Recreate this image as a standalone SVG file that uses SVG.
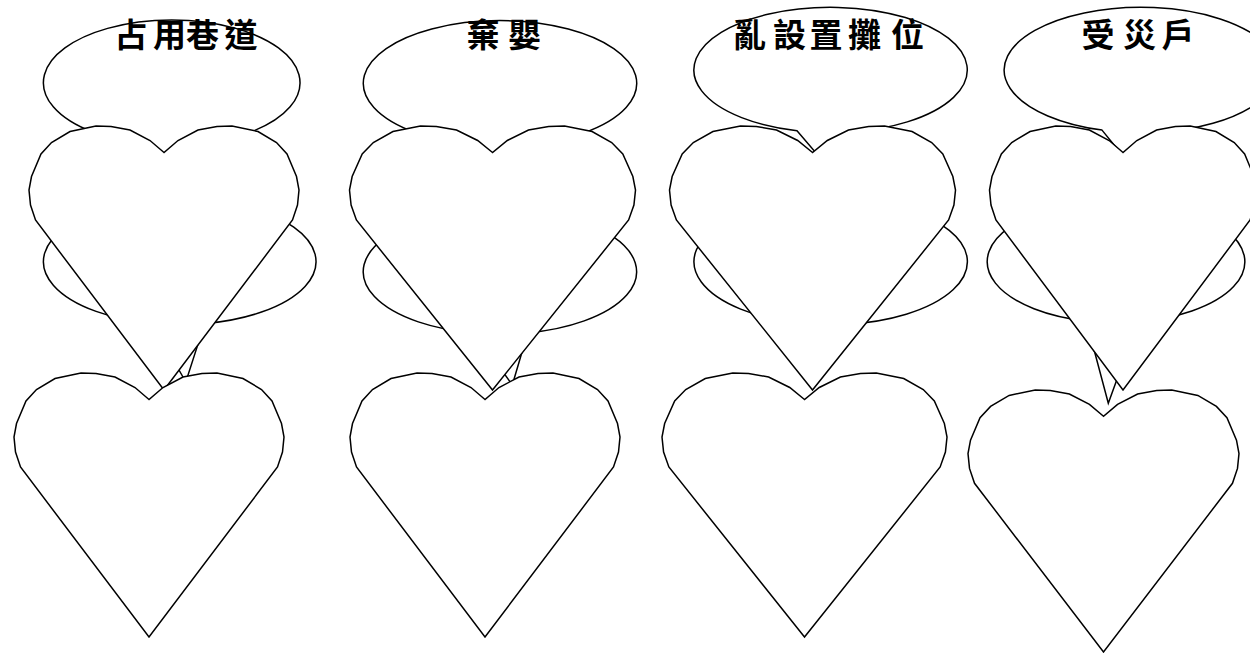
<svg xmlns="http://www.w3.org/2000/svg" xmlns:xlink="http://www.w3.org/1999/xlink" width="1250" height="653" viewBox="0 0 1250 653">
<style>
.co{fill:#fff;stroke:#000;stroke-width:1.5;stroke-linejoin:miter}
.hrt{fill:#fff;stroke:#000;stroke-width:1.5;stroke-linejoin:miter;vector-effect:non-scaling-stroke}
.lbl{font-family:"Noto Sans CJK TC","Noto Sans CJK SC",sans-serif;font-size:33px;font-weight:bold;fill:#000}
</style>
<defs>
<polygon id="heart" class="hrt" points="135,26.5 121,14.5 101,4 82,0.5 67,0 41,5.5 22.5,16.5 12,28 2.5,50.5 0,64 1.5,79 6.5,94 135,264 263.5,94 268.5,79 270,64 267.5,50.5 258,28 247.5,16.5 229,5.5 203,0 188,0.5 169,4 149,14.5"/>
</defs>
<rect width="1250" height="653" fill="#fff"/>
<g id="connectors"></g>
<g id="callout-1a"><path class="co" d="M147.2,144.25 L172,175 L196.2,144.25 A128.3,62.7 0 1 0 147.2,144.25 Z"/></g>
<g id="callout-2a"><path class="co" d="M473.9,144.85 L497,178 L526.1,144.85 A136.7,62.7 0 1 0 473.9,144.85 Z"/></g>
<g id="callout-3a"><path class="co" d="M797,130.76 L822,160 L849.1,132.1 A136.7,62.7 0 1 0 797,130.76 Z"/></g>
<g id="callout-4a"><path class="co" d="M1102,130.1 L1128,162 L1153.9,132.4 A136.7,62.7 0 1 0 1102,130.1 Z"/></g>
<g id="callout-1b"><path class="co" d="M152.6,323.4 L185.8,382 L204.6,323.6 A136.3,63 0 1 0 152.6,323.4 Z"/></g>
<g id="callout-2b"><path class="co" d="M475.5,333.2 L512.3,385 L527.7,332.9 A136.7,62.5 0 1 0 475.5,333.2 Z"/></g>
<g id="callout-3b"><path class="co" d="M795.7,322.6 L815,370 L847.8,324.2 A136.7,63 0 1 0 795.7,322.6 Z"/></g>
<g id="callout-4b"><path class="co" d="M1086.4,321.05 L1108.3,403.3 L1137.9,321.8 A128.8,61 0 1 0 1086.4,321.05 Z"/></g>
<g id="heart-1a"><use xlink:href="#heart" transform="translate(29,126)"/></g>
<g id="heart-2a"><use xlink:href="#heart" transform="translate(349.5,126) scale(1.0593,1)"/></g>
<g id="heart-3a"><use xlink:href="#heart" transform="translate(669.5,126) scale(1.0593,1)"/></g>
<g id="heart-4a"><use xlink:href="#heart" transform="translate(989.5,126) scale(0.9889,1)"/></g>
<g id="heart-1b"><use xlink:href="#heart" transform="translate(14,373)"/></g>
<g id="heart-2b"><use xlink:href="#heart" transform="translate(350,373)"/></g>
<g id="heart-3b"><use xlink:href="#heart" transform="translate(662,373) scale(1.0556,1)"/></g>
<g id="heart-4b"><use xlink:href="#heart" transform="translate(968,390) scale(1.0037,0.9924)"/></g>
<g id="labels">
<text class="lbl" x="114.5 153 186 224.5" y="46.5">占用巷道</text>
<text class="lbl" x="466.5 508" y="46.5">棄嬰</text>
<text class="lbl" x="733 773 809.5 848 891" y="46.5">亂設置攤位</text>
<text class="lbl" x="1081.5 1123 1161.5" y="46.5">受災戶</text>
</g>
</svg>
